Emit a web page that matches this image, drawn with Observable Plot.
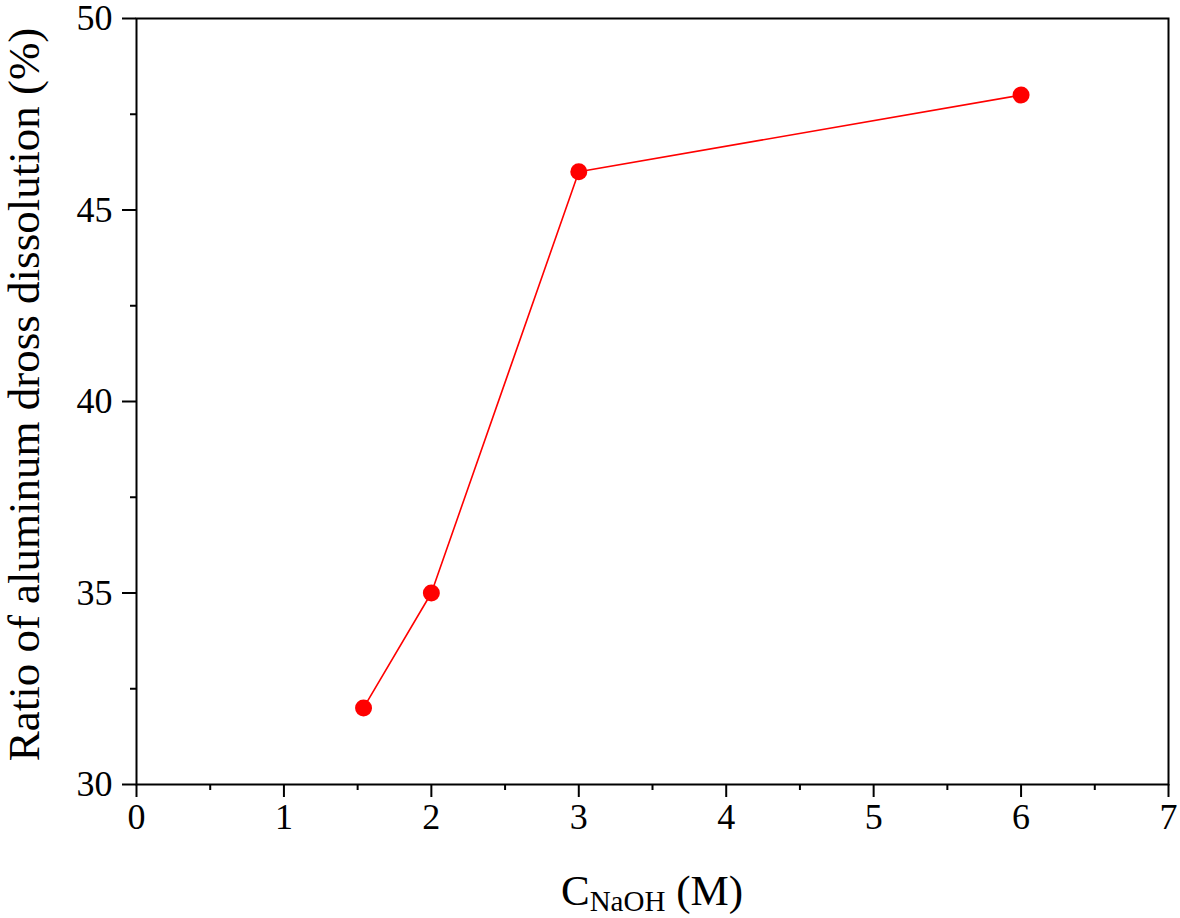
<!DOCTYPE html>
<html>
<head>
<meta charset="utf-8">
<script src="https://cdn.jsdelivr.net/npm/d3@7"></script>
<script src="https://cdn.jsdelivr.net/npm/@observablehq/plot@0.6"></script>
<style>
  html, body { margin: 0; padding: 0; background: #fff; }
  #chart svg { display: block; overflow: visible; }
</style>
</head>
<body>
<div id="chart"></div>
<script>
const concentration = [1.54, 2, 3, 6];
const dissolution = [32, 35, 46, 48];
const xMajorTicks = [0, 1, 2, 3, 4, 5, 6, 7];
const xMinorTicks = [0.5, 1.5, 2.5, 3.5, 4.5, 5.5, 6.5];
const yMajorTicks = [30, 35, 40, 45, 50];
const yMinorTicks = [32.5, 37.5, 42.5, 47.5];
const yLabel = "Ratio of aluminum dross dissolution (%)";

const data = concentration.map((c, i) => ({c, v: dissolution[i]}));
const font = "'Liberation Serif', 'Times New Roman', serif";

const plot = Plot.plot({
  width: 1180,
  height: 918,
  marginLeft: 136,
  marginRight: 12,
  marginTop: 18,
  marginBottom: 134,
  style: {fontFamily: font, background: "#fff", color: "#000"},
  x: {domain: [0, 7]},
  y: {domain: [30, 50]},
  marks: [
    Plot.frame({stroke: "#000", strokeWidth: 2}),
    Plot.axisX(xMajorTicks, {tickSize: 13, tickPadding: 6, fontSize: 36, strokeWidth: 2, label: null, tickFormat: d => String(d)}),
    Plot.axisX(xMinorTicks, {tickSize: 6, strokeWidth: 2, label: null, tickFormat: () => ""}),
    Plot.axisY(yMajorTicks, {tickSize: 14, tickPadding: 10, fontSize: 36, strokeWidth: 2, label: null, tickFormat: d => String(d)}),
    Plot.axisY(yMinorTicks, {tickSize: 6, strokeWidth: 2, label: null, tickFormat: () => ""}),
    Plot.line(data, {x: "c", y: "v", stroke: "#ff0000", strokeWidth: 1.6}),
    Plot.dot(data, {x: "c", y: "v", r: 8.5, fill: "#ff0000", stroke: "none"}),
    Plot.text([yLabel], {frameAnchor: "left", text: d => d, rotate: -90, dx: -112, dy: -7, fontSize: 45, textAnchor: "middle", lineAnchor: "middle", fill: "#000"})
  ]
});

document.getElementById("chart").appendChild(plot);

// x-axis title with subscript
const xs = plot.scale("x");
const svg = d3.select(plot);
const t = svg.append("text")
  .attr("x", (xs.apply(0) + xs.apply(7)) / 2)
  .attr("y", 905)
  .attr("text-anchor", "middle")
  .attr("font-family", font)
  .attr("font-size", 43)
  .attr("fill", "#000");
t.append("tspan").text("C");
t.append("tspan").attr("font-size", 29).attr("dy", 6).text("NaOH");
t.append("tspan").attr("dy", -6).text(" (M)");
</script>
</body>
</html>
